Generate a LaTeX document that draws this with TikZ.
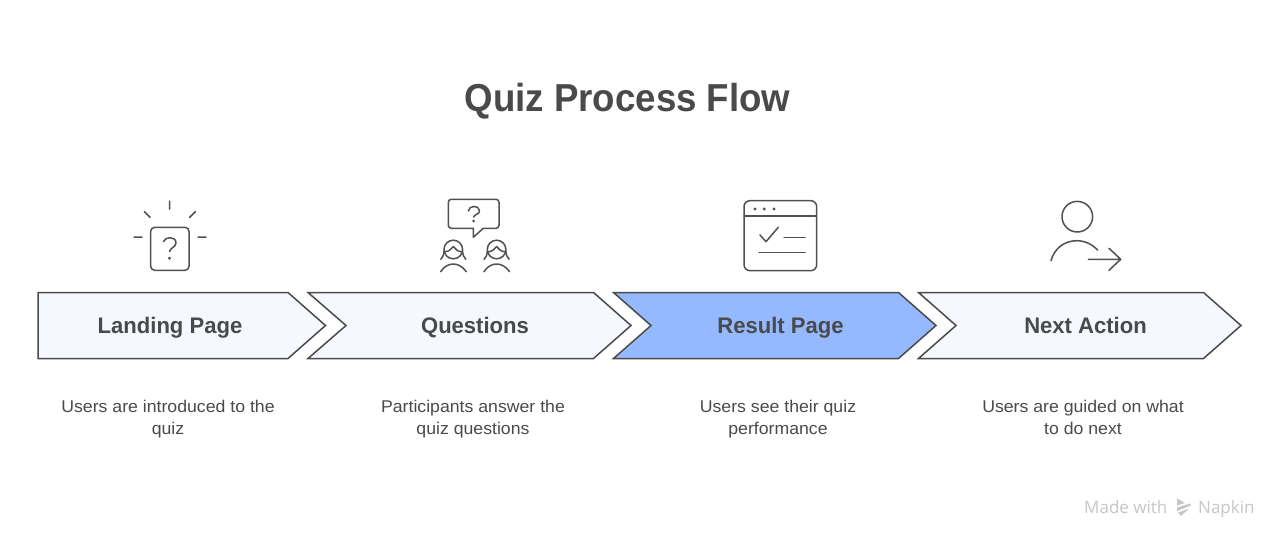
\documentclass[tikz,border=0pt]{standalone}
\usepackage{fontspec}
\setmainfont{Liberation Sans}
\newfontfamily\wmfont{Open Sans}
\definecolor{ink}{HTML}{4A4A4A}
\definecolor{line}{HTML}{505050}
\definecolor{pale}{HTML}{F5F8FF}
\definecolor{accent}{HTML}{94B9FF}
\definecolor{wm}{HTML}{C6C6C6}
\tikzset{
  chev/.style={draw=ink,line width=1.5pt,line join=miter,fill=pale},
  icon/.style={draw=line,line width=1.5pt,line cap=round,line join=round},
  titletext/.style={text=ink,inner sep=0pt,anchor=base,xscale=0.94,transform shape,font=\fontsize{39}{46}\selectfont\bfseries},
  headtext/.style={text=ink,inner sep=0pt,anchor=base,xscale=0.98,transform shape,font=\fontsize{22.5}{28}\selectfont\bfseries},
  desctext/.style={text=ink,inner sep=0pt,align=center,xscale=1.04,transform shape,font=\fontsize{17}{22.7}\selectfont},
  wmtext/.style={text=wm,inner sep=0pt,font=\wmfont\fontsize{17}{20}\selectfont}
}
\begin{document}
\begin{tikzpicture}[x=1pt,y=-1pt]
\useasboundingbox[fill=white] (0,0) rectangle (1280,538);
\node[titletext] (ttl) at (627.5,111.7) {Quiz Process Flow};
% chevrons
\draw[chev] (38,292.5) -- (288,292.5) -- (325.5,325.5) -- (288,358.5) -- (38,358.5) -- cycle;
\draw[chev] (308,292.5) -- (593.5,292.5) -- (631,325.5) -- (593.5,358.5) -- (308,358.5) -- (346,325.5) -- cycle;
\draw[chev,fill=accent] (613.5,292.5) -- (898.5,292.5) -- (936,325.5) -- (898.5,358.5) -- (613.5,358.5) -- (651,325.5) -- cycle;
\draw[chev] (918.5,292.5) -- (1203.5,292.5) -- (1241,325.5) -- (1203.5,358.5) -- (918.5,358.5) -- (956,325.5) -- cycle;
\node[headtext] (h1) at (170,333.3) {Landing Page};
\node[headtext] (h2) at (475,333.3) {Questions};
\node[headtext] (h3) at (780.5,333.3) {Result Page};
\node[headtext] (h4) at (1085.5,333.3) {Next Action};
\node[desctext] (d1) at (168,419) {\strut Users are introduced to the\\\strut quiz};
\node[desctext] (d2) at (473,419) {\strut Participants answer the\\\strut quiz questions};
\node[desctext] (d3) at (778,419) {\strut Users see their quiz\\\strut performance};
\node[desctext] (d4) at (1083,419) {\strut Users are guided on what\\\strut to do next};
% icon 1
\draw[icon,rounded corners=4pt] (150.7,227.3) rectangle (189,270.3);
\draw[icon] (169.5,201) -- (169.5,209) (134,237) -- (142,237) (198,237) -- (206,237)
  (144.5,211.7) -- (150,217.3) (195.3,211.7) -- (189.7,217.3);
\draw[icon] (163.5,241.5) .. controls (165,236.5) and (175.5,236) .. (176,242.5) .. controls (176.3,247) and (171,247) .. (169.5,251.5);
\fill[line] (169.5,258.3) circle (1.6);
% icon 2
\draw[icon] (473.3,228.3) -- (451.3,228.3) arc[start angle=90,end angle=180,radius=3] -- (448.3,202.3) arc[start angle=180,end angle=270,radius=3] -- (496,199.3) arc[start angle=-90,end angle=0,radius=3] -- (499,225.3) arc[start angle=0,end angle=90,radius=3] -- (483.3,228.3) -- (473.3,237.3) -- cycle;
\draw[icon] (468.3,211) .. controls (469,205) and (479,205) .. (479.5,210.5) .. controls (479.8,214.5) and (474.5,214) .. (473.7,217);
\fill[line] (473.7,221) circle (1.5);
\foreach \px in {453.3,496.6}{
  \begin{scope}[xshift=\px pt]
  \draw[icon] (0,249.5) circle (9.3);
  \draw[icon] (-9,252) .. controls (-4,251.5) and (-2,249) .. (0,246.5) .. controls (2,249) and (4,251.5) .. (9,252);
  \draw[icon] (-9.2,251) .. controls (-9.5,255) and (-10.5,257) .. (-12.5,259.3) (9.2,251) .. controls (9.5,255) and (10.5,257) .. (12.5,259.3);
  \draw[icon] (-12.7,271.7) .. controls (-9,266) and (-4,264) .. (0,264) .. controls (4,264) and (9,266) .. (13,271.7);
  \end{scope}
}
% icon 3
\draw[icon,rounded corners=6pt] (744,200.7) rectangle (816.7,270.7);
\draw[icon] (744,216) -- (816.7,216);
\fill[line] (755,209) circle (1.6) (764.3,209) circle (1.6) (774,209) circle (1.6);
\draw[icon] (760,235) -- (766,241.7) -- (778.3,227.3);
\draw[icon] (784,237.3) -- (805,237.3) (759,252.7) -- (805,252.7);
% icon 4
\draw[icon] (1077.3,216.7) circle (15.3);
\draw[icon] (1051,260.7) .. controls (1054,249) and (1064,240.7) .. (1076.7,240.7) .. controls (1085,240.7) and (1092.5,244.5) .. (1097.7,250);
\draw[icon] (1088.3,259.3) -- (1120.7,259.3) (1109,248.3) -- (1120.7,259.3) -- (1109,270.3);
% watermark
\node[wmtext,anchor=base west] (m1) at (1084,513) {Made with};
\node[wmtext,anchor=base west] (m2) at (1198,513) {Napkin};
\fill[wm] (1177,498.5) -- (1185,503) -- (1177,505.5) -- cycle;
\fill[wm] (1177,507.5) -- (1190,503.5) -- (1191,505.5) -- (1177,511) -- cycle;
\fill[wm] (1178,512.5) -- (1189,508.5) -- (1181,516) -- cycle;
\end{tikzpicture}
\end{document}
